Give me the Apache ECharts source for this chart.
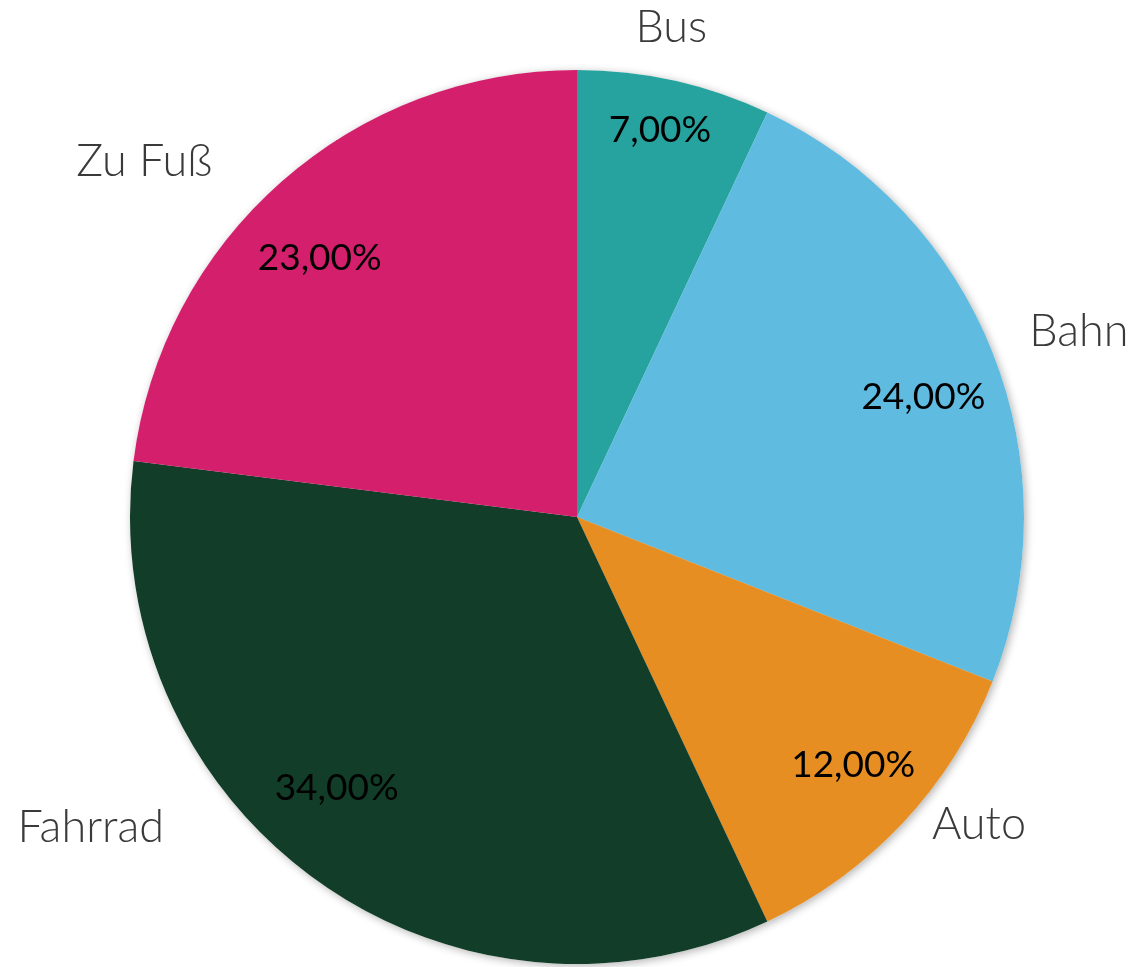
<!DOCTYPE html>
<html>
<head>
<meta charset="utf-8">
<title>Verkehrsmittel</title>
<script src="https://cdn.jsdelivr.net/npm/echarts@6/dist/echarts.min.js"></script>
<style>
  html, body { margin: 0; padding: 0; background: #fff; }
  #chart { width: 1134px; height: 967px; }
</style>
</head>
<body>
<div id="chart"></div>
<script>
// data
var categories = ['Bus', 'Bahn', 'Auto', 'Fahrrad', 'Zu Fuß'];
var shares = [7, 24, 12, 34, 23];
var colors = ['#26A39E', '#5FBBE0', '#E78E23', '#123D28', '#D31F6C'];

// pie geometry (px)
var CX = 577, CY = 517, R = 447;

// label placement: [radius factor, angle shift in deg] per slice
var pctPos = [[0.886, -0.5], [0.82, 2.5], [0.83, -1.3], [0.81, 5.6], [0.817, -3.4]];
var namePos = [[1.116, -1.7], [1.197, 1.3], [1.132, -5.8], [1.291, 21.4], [1.253, -9.2]];

var total = shares.reduce(function (a, b) { return a + b; }, 0);

function midAngle(i) {
  var cum = 0;
  for (var k = 0; k < i; k++) cum += shares[k];
  return (cum + shares[i] / 2) / total * 360;
}

function placeAt(pos) {
  return function (params) {
    var i = params.dataIndex;
    var a = (midAngle(i) + pos[i][1]) * Math.PI / 180;
    var r = R * pos[i][0];
    return {
      x: CX + r * Math.sin(a),
      y: CY - r * Math.cos(a),
      align: 'center',
      verticalAlign: 'middle'
    };
  };
}

var pieData = categories.map(function (name, i) {
  return { name: name, value: shares[i], itemStyle: { color: colors[i] } };
});

var chart = echarts.init(document.getElementById('chart'));

chart.setOption({
  backgroundColor: '#fff',
  animation: false,
  series: [
    {
      // soft shadow under the whole pie
      type: 'pie',
      silent: true,
      center: [CX, CY],
      radius: R,
      startAngle: 90,
      z: 1,
      data: pieData.map(function (d) {
        return { name: d.name, value: d.value };
      }),
      itemStyle: {
        color: '#fff',
        shadowBlur: 8,
        shadowColor: 'rgba(0,0,0,0.3)',
        shadowOffsetX: 2,
        shadowOffsetY: 2
      },
      label: { show: false },
      labelLine: { show: false }
    },
    {
      type: 'pie',
      center: [CX, CY],
      radius: R,
      startAngle: 90,
      z: 2,
      data: pieData,
      itemStyle: { borderWidth: 0 },
      label: {
        show: true,
        position: 'inside',
        formatter: function (p) { return p.value.toFixed(2).replace('.', ',') + '%'; },
        fontFamily: 'Lato',
        fontSize: 37,
        color: '#000'
      },
      labelLayout: placeAt(pctPos),
      emphasis: { disabled: true }
    },
    {
      // name labels outside the pie
      type: 'pie',
      silent: true,
      center: [CX, CY],
      radius: R,
      startAngle: 90,
      z: 3,
      data: pieData.map(function (d) {
        return { name: d.name, value: d.value };
      }),
      itemStyle: { color: 'rgba(0,0,0,0)' },
      label: {
        show: true,
        position: 'inside',
        formatter: '{b}',
        fontFamily: 'Lato',
        fontWeight: 300,
        fontSize: 45,
        color: '#3a3a3a'
      },
      labelLine: { show: false },
      labelLayout: placeAt(namePos)
    }
  ]
});
</script>
</body>
</html>
